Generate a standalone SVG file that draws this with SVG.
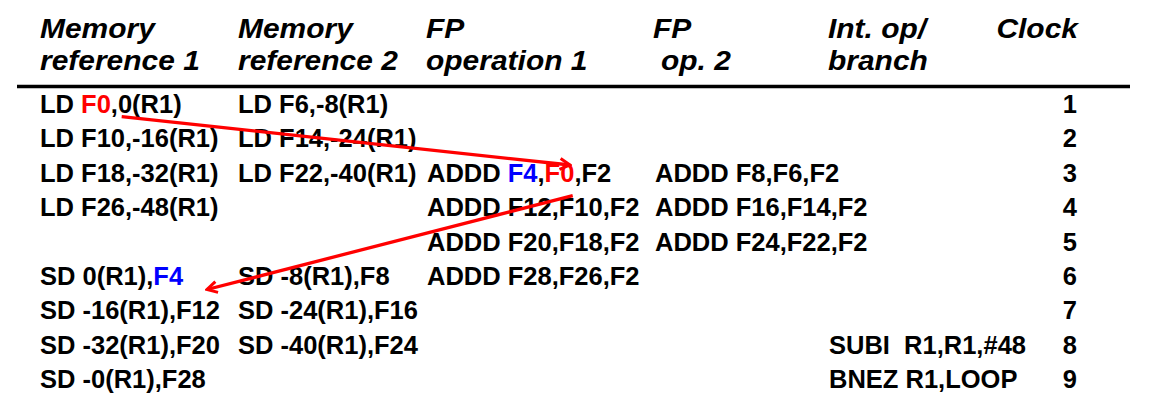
<svg xmlns="http://www.w3.org/2000/svg" width="1168" height="404" viewBox="0 0 1168 404">
<defs>
<style>
.h{font-family:"Liberation Sans",Arial,sans-serif;font-size:27.5px;font-weight:bold;font-style:italic;fill:#000}
.b{font-family:"Liberation Sans",Arial,sans-serif;font-size:25.5px;font-weight:bold;fill:#000;white-space:pre}
.c{text-anchor:end}
.r{fill:#FF0000}
.u{fill:#0000FF}
.arr{stroke:#FF0000;stroke-width:3.3;fill:none;marker-end:url(#ah)}
</style>
<marker id="ah" viewBox="-12 -7 14 14" refX="0" refY="0" markerWidth="14" markerHeight="14" orient="auto" markerUnits="userSpaceOnUse">
<path d="M-10,-5.5 L0,0 L-10,5.5" fill="none" stroke="#FF0000" stroke-width="3"/>
</marker>
</defs>
<rect width="1168" height="404" fill="#fff"/>
<g id="header">
<text class="h" transform="translate(40 38) scale(1.09 1)">Memory</text>
<text class="h" transform="translate(40 70) scale(1.09 1)">reference 1</text>
<text class="h" transform="translate(238 38) scale(1.09 1)">Memory</text>
<text class="h" transform="translate(238 70) scale(1.09 1)">reference 2</text>
<text class="h" transform="translate(426 38) scale(1.09 1)">FP</text>
<text class="h" transform="translate(426 70) scale(1.09 1)">operation 1</text>
<text class="h" transform="translate(653 38) scale(1.09 1)">FP</text>
<text class="h" transform="translate(661 70) scale(1.09 1)">op. 2</text>
<text class="h" transform="translate(828 38) scale(1.09 1)">Int. op/</text>
<text class="h" transform="translate(828 70) scale(1.09 1)">branch</text>
<text class="h" text-anchor="end" transform="translate(1078 38) scale(1.09 1)">Clock</text>
<line x1="17" y1="86.5" x2="1130" y2="86.5" stroke="#000" stroke-width="3.5"/>
</g>
<g id="row1">
<text class="b" x="40" y="113">LD <tspan class="r">F0</tspan>,0(R1)</text>
<text class="b" x="238" y="113">LD F6,-8(R1)</text>
<text class="b c" x="1077" y="113">1</text>
</g>
<g id="row2">
<text class="b" x="40" y="147.4">LD F10,-16(R1)</text>
<text class="b" x="238" y="147.4">LD F14,-24(R1)</text>
<text class="b c" x="1077" y="147.4">2</text>
</g>
<g id="row3">
<text class="b" x="40" y="181.8">LD F18,-32(R1)</text>
<text class="b" x="238" y="181.8">LD F22,-40(R1)</text>
<text class="b" x="427" y="181.8">ADDD <tspan class="u">F4</tspan>,<tspan class="r">F0</tspan>,F2</text>
<text class="b" x="655" y="181.8">ADDD F8,F6,F2</text>
<text class="b c" x="1077" y="181.8">3</text>
</g>
<g id="row4">
<text class="b" x="40" y="216.2">LD F26,-48(R1)</text>
<text class="b" x="427" y="216.2">ADDD F12,F10,F2</text>
<text class="b" x="655" y="216.2">ADDD F16,F14,F2</text>
<text class="b c" x="1077" y="216.2">4</text>
</g>
<g id="row5">
<text class="b" x="427" y="250.6">ADDD F20,F18,F2</text>
<text class="b" x="655" y="250.6">ADDD F24,F22,F2</text>
<text class="b c" x="1077" y="250.6">5</text>
</g>
<g id="row6">
<text class="b" x="40" y="285">SD 0(R1),<tspan class="u">F4</tspan></text>
<text class="b" x="238" y="285">SD -8(R1),F8</text>
<text class="b" x="427" y="285">ADDD F28,F26,F2</text>
<text class="b c" x="1077" y="285">6</text>
</g>
<g id="row7">
<text class="b" x="40" y="319.4">SD -16(R1),F12</text>
<text class="b" x="238" y="319.4">SD -24(R1),F16</text>
<text class="b c" x="1077" y="319.4">7</text>
</g>
<g id="row8">
<text class="b" x="40" y="353.8">SD -32(R1),F20</text>
<text class="b" x="238" y="353.8">SD -40(R1),F24</text>
<text class="b" x="829" y="353.8" xml:space="preserve">SUBI  R1,R1,#48</text>
<text class="b c" x="1077" y="353.8">8</text>
</g>
<g id="row9">
<text class="b" x="40" y="388.2">SD -0(R1),F28</text>
<text class="b" x="829" y="388.2">BNEZ R1,LOOP</text>
<text class="b c" x="1077" y="388.2">9</text>
</g>
<g id="connectors">
<line class="arr" x1="121.7" y1="116.7" x2="570" y2="165"/>
<line class="arr" x1="572.7" y1="195.7" x2="207" y2="289.5"/>
</g>
</svg>
